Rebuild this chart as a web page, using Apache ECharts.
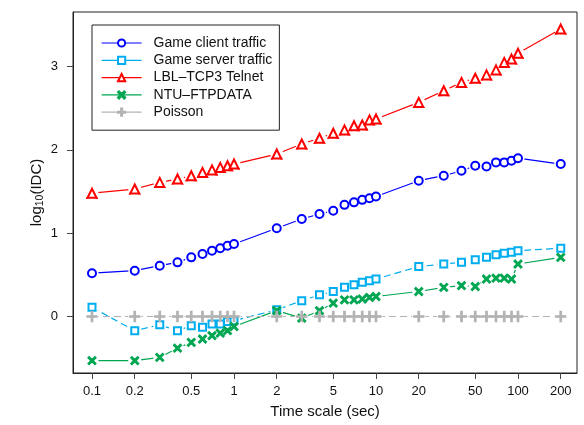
<!DOCTYPE html>
<html><head><meta charset="utf-8">
<script src="https://cdn.jsdelivr.net/npm/echarts@6/dist/echarts.min.js"></script>
<style>html,body{margin:0;padding:0;background:#fff}#c{width:584px;height:425px}</style>
</head><body><div id="c"></div>
<script>
const times = [0.1,0.2,0.3,0.4,0.5,0.6,0.7,0.8,0.9,1,2,3,4,5,6,7,8,9,10,20,30,40,50,60,70,80,90,100,200];
const clientTraffic = [0.52,0.55,0.61,0.65,0.71,0.75,0.79,0.82,0.85,0.87,1.06,1.17,1.23,1.27,1.34,1.37,1.40,1.42,1.44,1.63,1.69,1.75,1.81,1.80,1.85,1.85,1.87,1.90,1.83];
const serverTraffic = [0.11,-0.17,-0.10,-0.17,-0.11,-0.13,-0.09,-0.09,-0.06,-0.05,0.08,0.19,0.26,0.30,0.35,0.38,0.41,0.43,0.45,0.60,0.63,0.65,0.68,0.71,0.74,0.76,0.77,0.79,0.82];
const telnet = [1.48,1.53,1.61,1.65,1.69,1.73,1.76,1.79,1.81,1.83,1.95,2.07,2.14,2.20,2.24,2.29,2.30,2.36,2.37,2.57,2.71,2.81,2.86,2.90,2.96,3.05,3.09,3.16,3.45];
const ftpdata = [-0.53,-0.53,-0.49,-0.38,-0.31,-0.27,-0.23,-0.20,-0.17,-0.12,0.07,-0.02,0.07,0.16,0.20,0.20,0.21,0.23,0.24,0.30,0.35,0.37,0.36,0.45,0.46,0.46,0.45,0.63,0.71];
const poisson = [0,0,0,0,0,0,0,0,0,0,0,0,0,0,0,0,0,0,0,0,0,0,0,0,0,0,0,0,0];
const xTicks = [0.1,0.2,0.5,1,2,5,10,20,50,100,200];
const yTicks = [0,1,2,3];

const FONT = '"Liberation Sans", Arial, Helvetica, sans-serif';
const X_PATH = 'path://M0,1.4L1.4,0L5,3.6L8.6,0L10,1.4L6.4,5L10,8.6L8.6,10L5,6.4L1.4,10L0,8.6L3.6,5Z';
const PLUS_PATH = 'path://M4.3,0H5.7V4.3H10V5.7H5.7V10H4.3V5.7H0V4.3H4.3Z';

const defs = [
  {name:'Game client traffic', vals:clientTraffic, color:'#0000FF', symbol:'emptyCircle', size:8, dash:'solid'},
  {name:'Game server traffic', vals:serverTraffic, color:'#00AEEF', symbol:'emptyRect', size:7, dash:[7,4]},
  {name:'LBL\u2013TCP3 Telnet', vals:telnet, color:'#FF0000', symbol:'emptyTriangle', size:9, dash:'solid'},
  {name:'NTU\u2013FTPDATA', vals:ftpdata, color:'#00A651', symbol:X_PATH, size:8, dash:'solid'},
  {name:'Poisson', vals:poisson, color:'#B3B3B3', symbol:PLUS_PATH, size:10, dash:[7,4]}
];

function pts(vals){ return times.map((t,i)=>[Math.log10(t), vals[i]]); }

const series = [];
defs.forEach(d=>{
  series.push({
    name:d.name, type:'line', data:pts(d.vals), z:2, color:d.color,
    symbol:d.symbol, symbolSize:d.size, showAllSymbol:true,
    lineStyle:{color:d.color, width:1.2, type:d.dash},
    itemStyle:{color:d.color, borderColor:d.color, borderWidth:1.3},
    emphasis:{disabled:true}, silent:true
  });
});
defs.forEach((d,k)=>{
  series.push({
    name:'_mask'+k, type:'line', data:pts(d.vals), z:3,
    symbol:'circle', symbolSize:13, showAllSymbol:true,
    lineStyle:{opacity:0, width:0},
    itemStyle:{color:'#ffffff', borderWidth:0},
    emphasis:{disabled:true}, silent:true
  });
});
defs.forEach((d,k)=>{
  series.push({
    name:'_mark'+k, type:'line', data:pts(d.vals), z:4, color:d.color,
    symbol:d.symbol, symbolSize:d.size, showAllSymbol:true,
    lineStyle:{opacity:0, width:0},
    itemStyle:{color:d.color, borderColor:d.color, borderWidth:1.3},
    emphasis:{disabled:true}, silent:true
  });
});

const chart = echarts.init(document.getElementById('c'), null, {renderer:'canvas'});
chart.setOption({
  animation:false,
  backgroundColor:'#fff',
  textStyle:{fontFamily:FONT},
  grid:{left:73, top:12, width:504, height:361, show:true, borderColor:'#222', borderWidth:1, backgroundColor:'transparent'},
  legend:{
    data:defs.map(d=>d.name), orient:'vertical', left:92, top:25,
    backgroundColor:'#fff', borderColor:'#222', borderWidth:1,
    padding:[11,7,11,9], itemWidth:40, itemHeight:9, itemGap:3.3,
    lineStyle:{type:'solid', width:1.2},
    textStyle:{fontFamily:FONT, fontSize:14, color:'#111', padding:[0,0,0,7]},
    selectedMode:false
  },
  xAxis:{
    type:'value', min:-1.1338, max:2.4155,
    name:'Time scale (sec)', nameLocation:'middle', nameGap:31, nameMoveOverlap:false,
    nameTextStyle:{fontFamily:FONT, fontSize:15, color:'#111'},
    axisLine:{show:true, onZero:false, lineStyle:{color:'#222', width:1}},
    axisTick:{show:true, inside:false, length:6, lineStyle:{color:'#444'}, customValues:xTicks.map(v=>Math.log10(v))},
    axisLabel:{show:true, margin:12, fontFamily:FONT, fontSize:13, color:'#111',
      customValues:xTicks.map(v=>Math.log10(v)),
      formatter:v=>String(Math.round(Math.pow(10,v)*10)/10)},
    splitLine:{show:false}
  },
  yAxis:{
    type:'value', min:-0.678, max:3.655,
    name:'{a|log}{b|10}{a|(IDC)}', nameLocation:'middle', nameGap:26, nameRotate:90, nameMoveOverlap:false,
    nameTextStyle:{fontFamily:FONT, fontSize:15, color:'#111',
      rich:{a:{fontFamily:FONT, fontSize:15, color:'#111', lineHeight:20},
            b:{fontFamily:FONT, fontSize:10.5, color:'#111', padding:[7,0,0,0], lineHeight:20}}},
    axisLine:{show:true, onZero:false, lineStyle:{color:'#222', width:1}},
    axisTick:{show:true, inside:false, length:6, lineStyle:{color:'#444'}, customValues:yTicks},
    axisLabel:{show:true, margin:15, fontFamily:FONT, fontSize:13, color:'#111', customValues:yTicks},
    splitLine:{show:false}
  },
  series:series
});
</script>
</body></html>
